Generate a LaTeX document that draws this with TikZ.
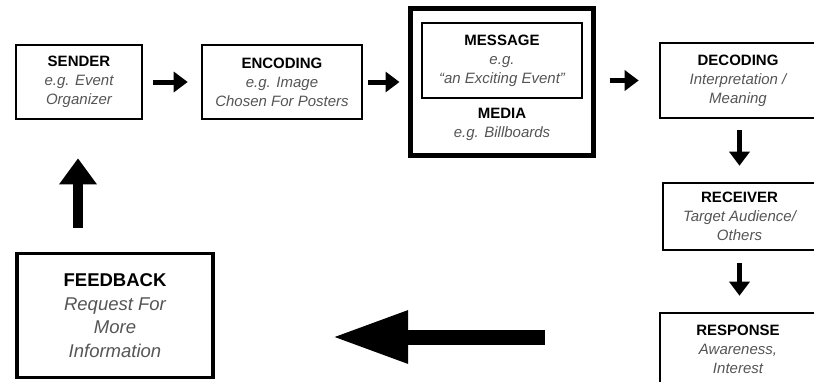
\documentclass[tikz,border=0pt]{standalone}
\usepackage{fontspec}
\setmainfont{Liberation Sans}
\usepackage{xcolor}
\usetikzlibrary{arrows.meta, positioning, calc}
\definecolor{subgray}{RGB}{85,85,85}
\newcommand{\sub}[1]{{\itshape\color{subgray}#1}}
\begin{document}
\begin{tikzpicture}[x=1pt, y=-1pt,
    box/.style={draw, line width=2.6pt, inner sep=0pt, align=center,
        font=\fontsize{15}{19}\selectfont},
    bigbox/.style={box, line width=3.2pt, font=\fontsize{18.5}{23.5}\selectfont},
    arr/.style={line width=5pt, -{Triangle[length=14pt, width=20pt]}},
    fatarr/.style={line width=15pt, -{Triangle[length=76pt, width=49pt]}},
    uparr/.style={line width=10.5pt, -{Triangle[length=26pt, width=36pt]}}]
\useasboundingbox (0,0) rectangle (814,381);
\fill[white] (0,0) rectangle (814,381);

\node[box, minimum width=126pt, minimum height=74pt] (sender) at (79,82)
    {\textbf{SENDER}\\\sub{e.g. Event}\\\sub{Organizer}};
\node[box, minimum width=160pt, minimum height=74pt] (encoding) at (282,82)
    {\textbf{ENCODING}\\\sub{e.g. Image}\\\sub{Chosen For Posters}};
\node[box, line width=5pt, minimum width=183pt, minimum height=147pt] (media) at (501.5,81.5) {};
\node[box, minimum width=160pt, minimum height=75pt] (message) at (502,60.5)
    {\textbf{MESSAGE}\\\sub{e.g.}\\\sub{``an Exciting Event''}};
\node[align=center, inner sep=0pt, font=\fontsize{15}{19}\selectfont] (medialabel) at (502,124)
    {\textbf{MEDIA}\\\sub{e.g. Billboards}};
\node[box, minimum width=156pt, minimum height=75pt] (decoding) at (738,80.5)
    {\textbf{DECODING}\\\sub{Interpretation /}\\\sub{Meaning}};
\node[box, minimum width=153pt, minimum height=67pt] (receiver) at (739.5,216.5)
    {\textbf{RECEIVER}\\\sub{Target Audience/}\\\sub{Others}};
\node[box, minimum width=156pt, minimum height=72pt] (response) at (738,349)
    {\textbf{RESPONSE}\\\sub{Awareness,}\\\sub{Interest}};
\node[bigbox, minimum width=196pt, minimum height=124pt] (feedback) at (115,315.5)
    {\textbf{FEEDBACK}\\\sub{Request For}\\\sub{More}\\\sub{Information}};

\draw[arr, shorten <=10pt, shorten >=13pt] (sender) -- (encoding);
\draw[arr, shorten <=5pt, shorten >=8pt] (encoding.east) -- (encoding.east -| media.west);
\draw[arr, shorten <=14pt, shorten >=20pt] (media.east |- decoding.west) -- (decoding.west);
\draw[arr, shorten <=11pt, shorten >=16pt] (receiver.north |- decoding.south) -- (receiver.north);
\draw[arr, shorten <=12pt, shorten >=16pt] (receiver.south) -- (receiver.south |- response.north);

\coordinate (bigtail) at (545,337);
\coordinate (bigtip) at (332,337);
\draw[fatarr] (bigtail) -- (bigtip);

\coordinate (uptail) at (78,228);
\draw[uparr, shorten >=38pt] (uptail) -- (uptail |- sender.south);
\end{tikzpicture}
\end{document}
